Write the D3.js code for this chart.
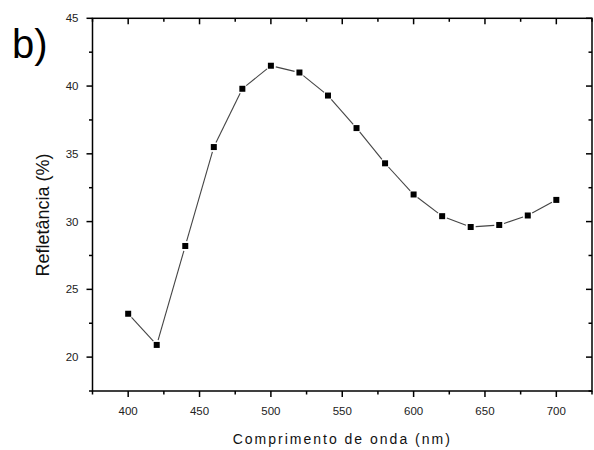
<!DOCTYPE html>
<html>
<head>
    <meta charset="utf-8" />
    <title>Refletância</title>
    <style>
        body { margin: 0; background: #fff; }
        svg { display: block; font-family: Arial, "Liberation Sans", sans-serif; }
    </style>
</head>
<body>
<script src="https://d3js.org/d3.v7.min.js"></script>
<script>
    // wavelength (nm) and reflectance (%)
    var wavelengths = [400, 420, 440, 460, 480, 500, 520, 540, 560, 580, 600, 620, 640, 660, 680, 700];
    var reflectance = [23.2, 20.9, 28.2, 35.5, 39.8, 41.5, 41.0, 39.3, 36.9, 34.3, 32.0, 30.4, 29.6, 29.75, 30.45, 31.6];
    var xTicks = [400, 450, 500, 550, 600, 650, 700];
    var yTicks = [20, 25, 30, 35, 40, 45];

    var width = 594;
    var height = 450;
    var margin = {"left": 92.5, "right": 2, "top": 18.3, "bottom": 59};

    var svg = d3.select("body").append("svg")
                .attr("width", width)
                .attr("height", height);

    var x = d3.scaleLinear()
              .domain([375, 725])
              .range([margin.left, width - margin.right]);
    var y = d3.scaleLinear()
              .domain([17.5, 45])
              .range([height - margin.bottom, margin.top]);

    var x0 = x.range()[0], x1 = x.range()[1];
    var y0 = y.range()[0], y1 = y.range()[1];

    var xMinor = d3.range(375, 726, 25).filter(d => xTicks.indexOf(d) < 0);
    var yMinor = d3.range(17.5, 45.1, 2.5).filter(d => yTicks.indexOf(d) < 0);

    var axes = svg.append("g").attr("stroke", "#000").attr("stroke-width", 1.5);

    // frame
    axes.append("rect")
        .attr("x", x0).attr("y", y1)
        .attr("width", x1 - x0).attr("height", y0 - y1)
        .attr("fill", "none");

    // bottom ticks (outward) and top ticks (inward)
    xTicks.forEach(function(t) {
        axes.append("line").attr("x1", x(t)).attr("x2", x(t)).attr("y1", y0).attr("y2", y0 + 6);
        axes.append("line").attr("x1", x(t)).attr("x2", x(t)).attr("y1", y1).attr("y2", y1 + 6);
    });
    xMinor.forEach(function(t) {
        axes.append("line").attr("x1", x(t)).attr("x2", x(t)).attr("y1", y0).attr("y2", y0 + 3.5);
        axes.append("line").attr("x1", x(t)).attr("x2", x(t)).attr("y1", y1).attr("y2", y1 + 3.5);
    });
    // left ticks (outward) and right ticks (inward)
    yTicks.forEach(function(t) {
        axes.append("line").attr("x1", x0 - 6).attr("x2", x0).attr("y1", y(t)).attr("y2", y(t));
        axes.append("line").attr("x1", x1 - 6).attr("x2", x1).attr("y1", y(t)).attr("y2", y(t));
    });
    yMinor.forEach(function(t) {
        axes.append("line").attr("x1", x0 - 3.5).attr("x2", x0).attr("y1", y(t)).attr("y2", y(t));
        axes.append("line").attr("x1", x1 - 3.5).attr("x2", x1).attr("y1", y(t)).attr("y2", y(t));
    });

    // tick labels
    svg.append("g").selectAll("text")
       .data(xTicks)
       .enter().append("text")
       .attr("x", d => x(d))
       .attr("y", y0 + 24)
       .attr("text-anchor", "middle")
       .attr("font-size", 11.5)
       .attr("fill", "#222")
       .text(d => d);

    svg.append("g").selectAll("text")
       .data(yTicks)
       .enter().append("text")
       .attr("x", x0 - 14)
       .attr("y", d => y(d) + 4)
       .attr("text-anchor", "end")
       .attr("font-size", 11.5)
       .attr("fill", "#222")
       .text(d => d);

    // axis titles
    svg.append("text")
       .attr("x", (x0 + x1) / 2)
       .attr("y", 444)
       .attr("text-anchor", "middle")
       .attr("font-size", 14)
       .attr("letter-spacing", 2)
       .attr("fill", "#111")
       .text("Comprimento de onda (nm)");

    svg.append("text")
       .attr("transform", "translate(49," + 215 + ") rotate(-90)")
       .attr("text-anchor", "middle")
       .attr("font-size", 18)
       .attr("fill", "#111")
       .text("Refletância (%)");

    // panel label
    svg.append("text")
       .attr("x", 12)
       .attr("y", 58)
       .attr("font-size", 40)
       .attr("fill", "#000")
       .text("b)");

    // line segments with small gaps at markers
    var pts = wavelengths.map((w, i) => [x(w), y(reflectance[i])]);
    var gap = 5;
    var segs = [];
    for (var i = 0; i < pts.length - 1; i++) {
        var a = pts[i], b = pts[i + 1];
        var dx = b[0] - a[0], dy = b[1] - a[1];
        var len = Math.sqrt(dx * dx + dy * dy);
        var ux = dx / len, uy = dy / len;
        segs.push([a[0] + ux * gap, a[1] + uy * gap, b[0] - ux * gap, b[1] - uy * gap]);
    }
    svg.append("g")
       .attr("stroke", "#444")
       .attr("stroke-width", 1.1)
       .selectAll("line")
       .data(segs)
       .enter().append("line")
       .attr("x1", d => d[0]).attr("y1", d => d[1])
       .attr("x2", d => d[2]).attr("y2", d => d[3]);

    // square markers
    svg.append("g")
       .attr("fill", "#000")
       .selectAll("rect")
       .data(pts)
       .enter().append("rect")
       .attr("x", d => d[0] - 3)
       .attr("y", d => d[1] - 3)
       .attr("width", 6)
       .attr("height", 6);
</script>
</body>
</html>
